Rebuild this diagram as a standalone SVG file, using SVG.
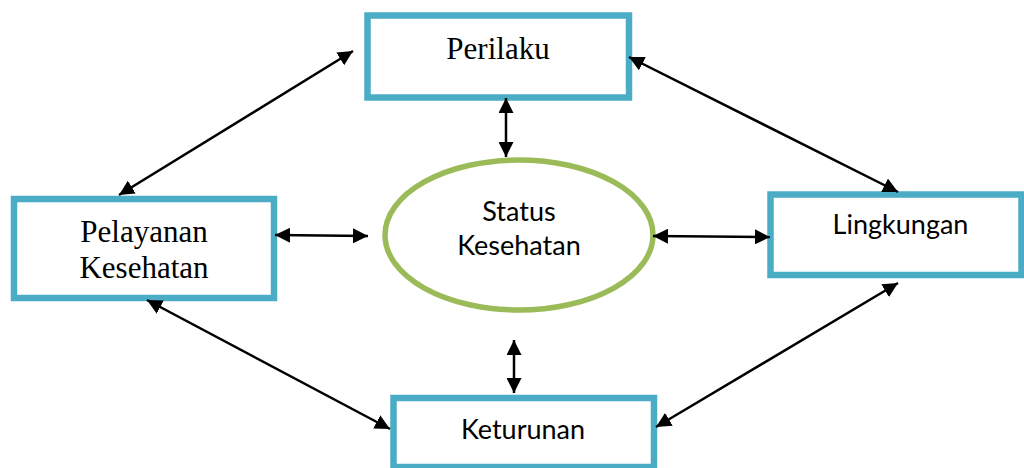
<svg xmlns="http://www.w3.org/2000/svg" width="1024" height="468" viewBox="0 0 1024 468">
<style>
.box{fill:#fff;stroke:#4BACC6;stroke-width:6.5}
.ell{fill:#fff;stroke:#9BBB59;stroke-width:5.5}
.serif{font-family:"Liberation Serif","Times New Roman",serif;font-size:31px;fill:#000;text-anchor:middle}
.sans{font-family:Lato,"Open Sans",sans-serif;font-size:27px;fill:#000;text-anchor:middle}
.con{stroke:#000;stroke-width:2.5;fill:none;marker-start:url(#ah);marker-end:url(#ah)}
</style>
<defs>
<marker id="ah" markerUnits="userSpaceOnUse" markerWidth="16" markerHeight="15" refX="15" refY="7.5" orient="auto-start-reverse">
<path d="M0,0 L15,7.5 L0,15 z" fill="#000"/>
</marker>
</defs>
<rect width="1024" height="468" fill="#fff"/>
<g id="perilaku">
<rect class="box" x="367.5" y="15.5" width="261.5" height="82"/>
<text class="serif" x="498" y="59">Perilaku</text>
</g>
<g id="pelayanan">
<rect class="box" x="14" y="199" width="260" height="99"/>
<text class="serif" x="144" y="242">Pelayanan</text>
<text class="serif" x="144" y="278">Kesehatan</text>
</g>
<g id="status">
<ellipse class="ell" cx="519" cy="235" rx="134" ry="75"/>
<text class="sans" x="519" y="221">Status</text>
<text class="sans" x="519" y="255">Kesehatan</text>
</g>
<g id="lingkungan">
<rect class="box" x="770.5" y="194.5" width="251" height="80.5"/>
<text class="sans" x="900.5" y="234">Lingkungan</text>
</g>
<g id="keturunan">
<rect class="box" x="393.5" y="398" width="260.5" height="69"/>
<text class="sans" x="523" y="439">Keturunan</text>
</g>
<g id="connectors">
<line class="con" x1="506" y1="98" x2="506" y2="157"/>
<line class="con" x1="514" y1="340" x2="514" y2="393"/>
<line class="con" x1="275" y1="235" x2="368" y2="236"/>
<line class="con" x1="653" y1="236" x2="770" y2="237"/>
<line class="con" x1="353" y1="51" x2="119" y2="195"/>
<line class="con" x1="629" y1="57" x2="898" y2="192"/>
<line class="con" x1="147" y1="300" x2="390" y2="429"/>
<line class="con" x1="898" y1="283" x2="656" y2="427"/>
</g>
</svg>
